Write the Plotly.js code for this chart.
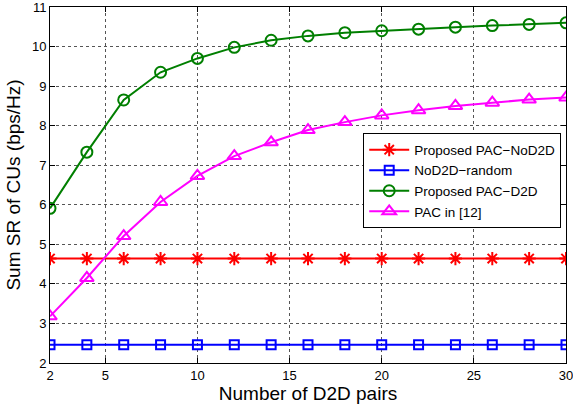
<!DOCTYPE html>
<html><head><meta charset="utf-8">
<script src="https://cdn.plot.ly/plotly-3.0.1.min.js"></script>
<style>html,body{margin:0;padding:0;background:#fff}#chart{width:573px;height:409px}</style>
</head><body><div id="chart"></div>
<script>
const xPairs = [2,4,6,8,10,12,14,16,18,20,22,24,26,28,30];
const pacNoD2D = [4.64,4.64,4.64,4.64,4.64,4.64,4.64,4.64,4.64,4.64,4.64,4.64,4.64,4.64,4.64];
const noD2DRandom = [2.46,2.46,2.46,2.46,2.46,2.46,2.46,2.46,2.46,2.46,2.46,2.46,2.46,2.46,2.46];
const pacD2D = [5.91,7.33,8.65,9.35,9.70,9.98,10.16,10.27,10.35,10.40,10.44,10.49,10.53,10.56,10.60];
const pac12 = [3.18,4.15,5.21,6.07,6.73,7.23,7.58,7.89,8.09,8.26,8.39,8.50,8.58,8.66,8.71];
const names = ['Proposed PAC\u2212NoD2D','NoD2D\u2212random','Proposed PAC\u2212D2D','PAC in [12]'];
const xTicks = [2,5,10,15,20,25,30];
const yTicks = [2,3,4,5,6,7,8,9,10,11];

function tr(y, name, color, sym, size){
  return {x:xPairs, y:y, name:name, type:'scatter', mode:'lines+markers',
    line:{color:color, width:2},
    marker:{symbol:sym, size:size, color:color, line:{color:color, width:2}}};
}
const data = [
  tr(pacNoD2D, names[0], '#ff0000', 'asterisk-open', 11),
  tr(noD2DRandom, names[1], '#0000ff', 'square-open', 9),
  tr(pacD2D, names[2], '#007f00', 'circle-open', 11),
  tr(pac12, names[3], '#ff00ff', 'triangle-up-open', 12)
];
const axisCommon = {showline:true, mirror:'ticks', linecolor:'#000', linewidth:1,
  ticks:'inside', ticklen:5, tickcolor:'#000', showgrid:true, gridcolor:'#555',
  griddash:'dot', gridwidth:1, zeroline:false, ticklabeloverflow:'allow',
  tickfont:{family:'Liberation Sans, Arial, sans-serif', size:13, color:'#000'}};
const layout = {
  width:573, height:409, margin:{l:50, r:7, t:7, b:46},
  paper_bgcolor:'#fff', plot_bgcolor:'#fff', showlegend:true,
  font:{family:'Liberation Sans, Arial, sans-serif', color:'#000'},
  xaxis:Object.assign({}, axisCommon, {range:[2,30], tickmode:'array', tickvals:xTicks,
    title:{text:'Number of D2D pairs', font:{size:19, color:'#000'}, standoff:4}}),
  yaxis:Object.assign({}, axisCommon, {range:[2,11], tickmode:'array', tickvals:yTicks,
    title:{text:'Sum SR of CUs (bps/Hz)', font:{size:19, color:'#000'}, standoff:6}}),
  legend:{x:0.607, y:0.645, xanchor:'left', yanchor:'top', bgcolor:'#fff',
    bordercolor:'#000', borderwidth:1, font:{size:13.5, color:'#000'},
    tracegroupgap:0, itemwidth:40}
};
Plotly.newPlot('chart', data, layout, {staticPlot:true});
</script></body></html>
